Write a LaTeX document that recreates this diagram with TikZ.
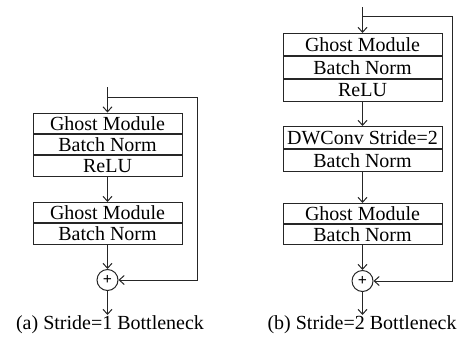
\documentclass[tikz,border=0pt]{standalone}
\usepackage{fontspec}
\setmainfont{Liberation Serif}
\usetikzlibrary{positioning,arrows.meta}

\tikzset{
  rowbox/.style={draw=black!85, line width=0.5pt, inner sep=0pt,
    minimum height=10.2pt, font=\normalsize},
  rowleft/.style={rowbox, minimum width=74.5pt},
  rowright/.style={rowbox, minimum width=79.5pt, minimum height=11pt},
  addnode/.style={draw=black!85, line width=0.5pt, circle, inner sep=0pt,
    minimum size=10.5pt, font=\footnotesize\bfseries},
  flow/.style={-{Straight Barb[length=2.5pt,width=4.5pt]}, draw=black!85,
    line width=0.5pt}
}

\begin{document}
\begin{tikzpicture}[x=0.5pt,y=-0.5pt]

\useasboundingbox
(0,0)
rectangle
(458,343);

% (a) stride 1
\coordinate (inA) at (107.5,87);
\coordinate (splitA) at (107.5,97);
\coordinate (skipA) at (197,97);

\node[rowleft, anchor=north]
(gmA)
at (107.5,112.5)
{Ghost Module};

\node[rowleft, below=0pt of gmA]
(bnA)
{Batch Norm};

\node[rowleft, below=0pt of bnA]
(reluA)
{ReLU};

\node[rowleft, anchor=north]
(gmAA)
at (107.5,202)
{Ghost Module};

\node[rowleft, below=0pt of gmAA]
(bnAA)
{Batch Norm};

\node[addnode]
(addA)
at (107.5,280)
{+};

\coordinate (outA) at (107.5,315);

\draw[flow]
(inA)
--
(gmA.north);

\draw[flow]
(splitA)
--
(skipA)
|-
(addA);

\draw[flow]
(reluA.south)
--
(gmAA.north);

\draw[flow]
(bnAA.south)
--
(addA.north);

\draw[flow]
(addA.south)
--
(outA);

\node
(capA)
at (110,325)
{(a) Stride=1 Bottleneck};

% (b) stride 2
\coordinate (inB) at (362.5,7);
\coordinate (splitB) at (362.5,16);
\coordinate (skipB) at (452,16);

\node[rowright, anchor=north]
(gmB)
at (362.5,33)
{Ghost Module};

\node[rowright, below=0pt of gmB]
(bnB)
{Batch Norm};

\node[rowright, below=0pt of bnB]
(reluB)
{ReLU};

\node[rowright, anchor=north]
(dwB)
at (362.5,126)
{DWConv Stride=2};

\node[rowright, below=0pt of dwB]
(bnBB)
{Batch Norm};

\node[rowright, anchor=north, minimum height=10pt]
(gmBB)
at (362.5,203)
{Ghost Module};

\node[rowright, below=0pt of gmBB, minimum height=10pt]
(bnBBB)
{Batch Norm};

\node[addnode]
(addB)
at (362.5,281)
{+};

\coordinate (outB) at (362.5,315);

\draw[flow]
(inB)
--
(gmB.north);

\draw[flow]
(splitB)
--
(skipB)
|-
(addB);

\draw[flow]
(reluB.south)
--
(dwB.north);

\draw[flow]
(bnBB.south)
--
(gmBB.north);

\draw[flow]
(bnBBB.south)
--
(addB.north);

\draw[flow]
(addB.south)
--
(outB);

\node
(capB)
at (362,325)
{(b) Stride=2 Bottleneck};

\end{tikzpicture}
\end{document}
